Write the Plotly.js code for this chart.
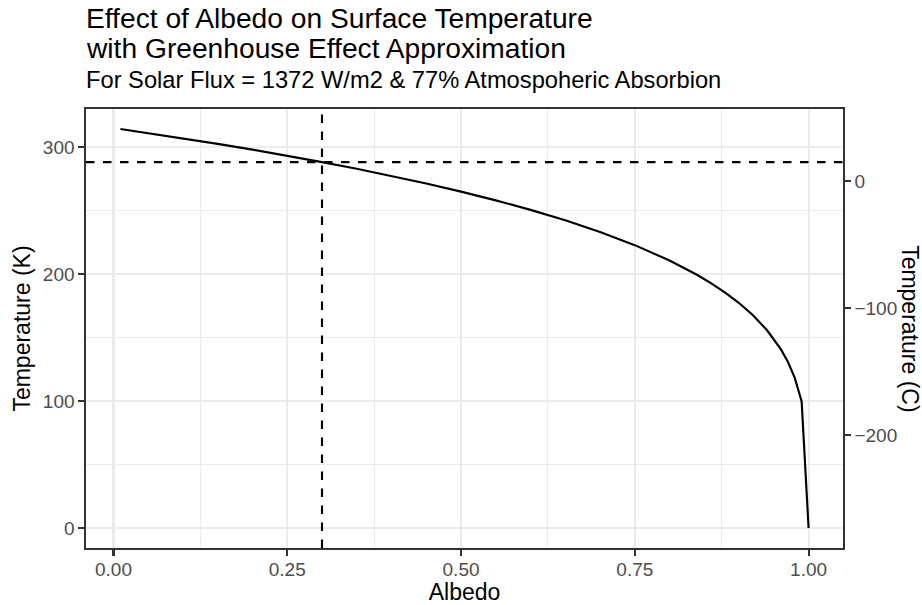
<!DOCTYPE html>
<html>
<head>
<meta charset="utf-8">
<script src="https://cdn.plot.ly/plotly-3.0.1.min.js"></script>
<style>html,body{margin:0;padding:0;background:#fff;}#chart{width:922px;height:605px;}</style>
</head>
<body>
<div id="chart"></div>
<script>
// ---- data ----
const albedo = [0.01,0.05,0.10,0.15,0.20,0.25,0.30,0.35,0.40,0.45,0.50,0.55,0.60,0.65,0.70,0.75,0.80,0.82,0.84,0.86,0.88,0.90,0.92,0.94,0.96,0.97,0.98,0.99,1.00];
const tempK  = [314.14,310.92,306.74,302.39,297.84,293.07,288.06,282.78,277.17,271.21,264.82,257.94,250.45,242.23,233.07,222.69,210.60,205.13,199.18,192.64,185.36,177.10,167.49,155.87,140.84,131.07,118.43,99.59,0];
const refAlbedo = 0.30;
const refTempK = 288.06;
const xTickVals = [0, 0.25, 0.5, 0.75, 1];
const xTickText = ['0.00', '0.25', '0.50', '0.75', '1.00'];
const yTickValsK = [0, 100, 200, 300];
const yTickValsC = [0, -100, -200];
const kelvinOffset = 273.15;

const titleLine1 = 'Effect of Albedo on Surface Temperature';
const titleLine2 = 'with Greenhouse Effect Approximation';
const subtitle = 'For Solar Flux = 1372 W/m2 &amp; 77% Atmospoheric Absorbion';

// ---- scales (ggplot-like 5% expansion) ----
const xmin = Math.min(...albedo, refAlbedo), xmax = Math.max(...albedo, refAlbedo);
const ymin = Math.min(...tempK, refTempK), ymax = Math.max(...tempK, refTempK);
const xr = [xmin - 0.05 * (xmax - xmin), xmax + 0.05 * (xmax - xmin)];
const yr = [ymin - 0.05 * (ymax - ymin), ymax + 0.05 * (ymax - ymin)];
const yr2 = [yr[0] - kelvinOffset, yr[1] - kelvinOffset];

const FONT = 'Liberation Sans, Arial, Helvetica, sans-serif';
const LW = 2.13;
const TITLE_SIZE = 28.2, TEXT_SIZE = 23.7, AXT_SIZE = 23, TICK_SIZE = 19;

const traces = [
  {x: albedo, y: tempK, type: 'scatter', mode: 'lines',
   line: {color: '#000000', width: LW}, showlegend: false, hoverinfo: 'x+y'},
  {x: albedo, y: tempK.map(v => v - kelvinOffset), type: 'scatter', mode: 'lines',
   yaxis: 'y2', line: {color: 'rgba(0,0,0,0)', width: 0}, showlegend: false, hoverinfo: 'skip'}
];

const axisCommon = {
  ticks: 'outside', ticklen: 5.5, tickwidth: LW, tickcolor: '#333333',
  showline: true, linecolor: '#333333', linewidth: LW,
  zeroline: false,
  tickfont: {family: FONT, size: TICK_SIZE, color: '#4D4D4D'}
};

const layout = {
  width: 922, height: 605,
  margin: {l: 86, r: 79, t: 109, b: 57, pad: 0},
  paper_bgcolor: '#ffffff', plot_bgcolor: '#ffffff',
  font: {family: FONT, color: '#000000'},
  showlegend: false,
  title: {text: titleLine1, font: {family: FONT, size: TITLE_SIZE, color: '#000000'},
          xref: 'paper', x: 0, xanchor: 'left', yref: 'container', y: 0.954, yanchor: 'bottom'},
  xaxis: Object.assign({}, axisCommon, {
    range: xr, tickmode: 'array', tickvals: xTickVals, ticktext: xTickText,
    mirror: true, ticklabelstandoff: -2,
    showgrid: true, gridcolor: '#EBEBEB', gridwidth: LW,
    minor: {showgrid: true, tick0: 0, dtick: 0.125, gridcolor: '#EBEBEB', gridwidth: LW / 2, ticks: ''},
    title: {text: 'Albedo', font: {family: FONT, size: AXT_SIZE, color: '#000000'}, standoff: 4}
  }),
  yaxis: Object.assign({}, axisCommon, {
    range: yr, tickmode: 'array', tickvals: yTickValsK,
    mirror: true,
    showgrid: true, gridcolor: '#EBEBEB', gridwidth: LW,
    minor: {showgrid: true, tick0: 0, dtick: 50, gridcolor: '#EBEBEB', gridwidth: LW / 2, ticks: ''},
    title: {text: 'Temperature (K)', font: {family: FONT, size: AXT_SIZE, color: '#000000'}, standoff: 6}
  }),
  yaxis2: Object.assign({}, axisCommon, {
    range: yr2, tickmode: 'array', tickvals: yTickValsC,
    overlaying: 'y', side: 'right', showgrid: false
  }),
  shapes: [
    {type: 'line', xref: 'x', yref: 'paper', x0: refAlbedo, x1: refAlbedo, y0: 0, y1: 1,
     line: {color: '#000000', width: LW, dash: '8.5px,8.5px'}},
    {type: 'line', xref: 'paper', yref: 'y', x0: 0, x1: 1, y0: refTempK, y1: refTempK,
     line: {color: '#000000', width: LW, dash: '8.5px,8.5px'}}
  ],
  annotations: [
    {text: titleLine2, xref: 'paper', yref: 'paper', x: 0, y: 1.0977, xanchor: 'left', yanchor: 'bottom', xshift: -2,
     showarrow: false, font: {family: FONT, size: TITLE_SIZE, color: '#000000'}},
    {text: subtitle, xref: 'paper', yref: 'paper', x: 0, y: 1.031, xanchor: 'left', yanchor: 'bottom', xshift: -2,
     showarrow: false, font: {family: FONT, size: TEXT_SIZE, color: '#000000'}},
    {text: 'Temperature (C)', xref: 'paper', yref: 'paper', x: 1.089, y: 0.5, xanchor: 'center', yanchor: 'middle',
     textangle: 90, showarrow: false, font: {family: FONT, size: AXT_SIZE, color: '#000000'}}
  ]
};

Plotly.newPlot('chart', traces, layout, {displayModeBar: false, staticPlot: true});
</script>
</body>
</html>
